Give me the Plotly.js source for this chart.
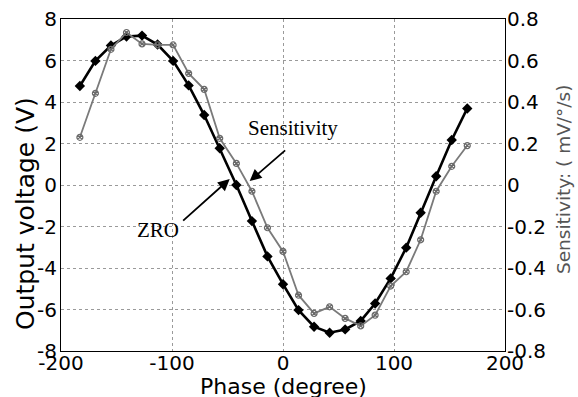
<!DOCTYPE html>
<html>
<head>
<meta charset="utf-8">
<script src="https://cdn.plot.ly/plotly-3.0.1.min.js"></script>
<style>html,body{margin:0;padding:0;background:#fff;}#chart{width:578px;height:397px;}</style>
</head>
<body>
<div id="chart"></div>
<script>
// Phase (degree)
var phase = [-183, -169, -155, -141, -127, -113, -99, -85, -71, -57, -42, -28, -14, 0, 14, 28, 42, 56, 70, 83, 97, 111, 124, 138, 152, 166];
// ZRO output voltage (V), left axis
var zro = [4.77, 5.98, 6.72, 7.16, 7.2, 6.77, 5.98, 4.8, 3.37, 1.77, 0.0, -1.74, -3.44, -4.78, -6.03, -6.83, -7.12, -6.96, -6.55, -5.71, -4.5, -3.02, -1.34, 0.42, 2.17, 3.69];
// Sensitivity (mV/°/s), right axis
var sensitivity = [0.23, 0.442, 0.654, 0.735, 0.68, 0.675, 0.675, 0.538, 0.461, 0.225, 0.104, -0.03, -0.206, -0.32, -0.531, -0.619, -0.587, -0.643, -0.679, -0.627, -0.487, -0.418, -0.264, -0.03, 0.09, 0.19];

var xTicks = [-200, -100, 0, 100, 200];
var xTickText = ['-200', '-100', '0', '100', '200'];
var yTicks = [-8, -6, -4, -2, 0, 2, 4, 6, 8];
var yTickText = ['-8', '-6', '-4', '-2', '0', '2', '4', '6', '8'];
var y2Ticks = [-0.8, -0.6, -0.4, -0.2, 0, 0.2, 0.4, 0.6, 0.8];
var y2TickText = ['-0.8', '-0.6', '-0.4', '-0.2', '0', '0.2', '0.4', '0.6', '0.8'];

var xTitle = 'Phase (degree)';
var yTitle = 'Output voltage (V)';
var y2Title = 'Sensitivity: ( mV/°/s)';

var tickFont = {family: 'DejaVu Sans', size: 20, color: '#000'};

var traces = [
  {
    x: phase, y: zro, type: 'scatter', mode: 'lines+markers', name: 'ZRO',
    line: {color: '#000', width: 2.6},
    marker: {symbol: 'diamond', size: 8, color: '#000'},
    yaxis: 'y'
  },
  {
    x: phase, y: sensitivity, type: 'scatter', mode: 'lines+markers', name: 'Sensitivity',
    line: {color: '#7a7a7a', width: 1.8},
    marker: {symbol: 'circle-x-open', size: 6, color: '#6a6a6a', line: {width: 1.2, color: '#6a6a6a'}},
    yaxis: 'y2'
  }
];

var layout = {
  width: 578, height: 397,
  margin: {l: 61, r: 73, t: 19, b: 46, pad: 0},
  paper_bgcolor: '#fff', plot_bgcolor: '#fff',
  showlegend: false,
  xaxis: {
    range: [-200, 200], tickvals: xTicks, ticktext: xTickText, ticks: '',
    showline: true, linecolor: '#000', linewidth: 1, mirror: true,
    showgrid: true, gridcolor: '#9a9a9a', griddash: 'dot', gridwidth: 1,
    zeroline: false, tickfont: tickFont, ticklabelstandoff: -6
  },
  yaxis: {
    range: [-8, 8], tickvals: yTicks, ticktext: yTickText, ticks: '',
    showline: true, linecolor: '#000', linewidth: 1,
    showgrid: true, gridcolor: '#9a9a9a', griddash: 'dot', gridwidth: 1,
    zeroline: false, tickfont: tickFont, ticklabelstandoff: -1
  },
  yaxis2: {
    overlaying: 'y', side: 'right',
    range: [-0.8, 0.8], tickvals: y2Ticks, ticktext: y2TickText, ticks: '',
    showline: true, linecolor: '#000', linewidth: 1,
    showgrid: false, zeroline: false, tickfont: tickFont, ticklabelstandoff: -3
  },
  annotations: [
    {x: 0.5, y: -0.063, xref: 'paper', yref: 'paper', xanchor: 'center', yanchor: 'top',
     text: xTitle, showarrow: false, font: {family: 'DejaVu Sans', size: 22, color: '#000'}},
    {x: -0.0788, y: 0.4127, xref: 'paper', yref: 'paper', xanchor: 'center', yanchor: 'middle',
     textangle: -90, text: yTitle, showarrow: false, font: {family: 'DejaVu Sans', size: 25, color: '#000'}},
    {x: 1.1306, y: 0.518, xref: 'paper', yref: 'paper', xanchor: 'center', yanchor: 'middle',
     textangle: -90, text: y2Title, showarrow: false, font: {family: 'DejaVu Sans', size: 18.5, color: '#555'}},
    {x: 8.7, y: 2.75, xref: 'x', yref: 'y', text: 'Sensitivity', showarrow: false,
     font: {family: 'Liberation Serif', size: 21, color: '#000'}},
    {x: -113, y: -2.17, xref: 'x', yref: 'y', text: 'ZRO', showarrow: false,
     font: {family: 'Liberation Serif', size: 21, color: '#000'}},
    {x: -30, y: 0.19, xref: 'x', yref: 'y', ax: 3.3, ay: 1.73, axref: 'x', ayref: 'y',
     text: '', showarrow: true, arrowhead: 2, arrowsize: 1.3, arrowwidth: 1.8, arrowcolor: '#000'},
    {x: -48, y: 0.29, xref: 'x', yref: 'y', ax: -91.3, ay: -1.78, axref: 'x', ayref: 'y',
     text: '', showarrow: true, arrowhead: 2, arrowsize: 1.3, arrowwidth: 1.8, arrowcolor: '#000'}
  ]
};

Plotly.newPlot('chart', traces, layout, {displayModeBar: false, staticPlot: true});
</script>
</body>
</html>
